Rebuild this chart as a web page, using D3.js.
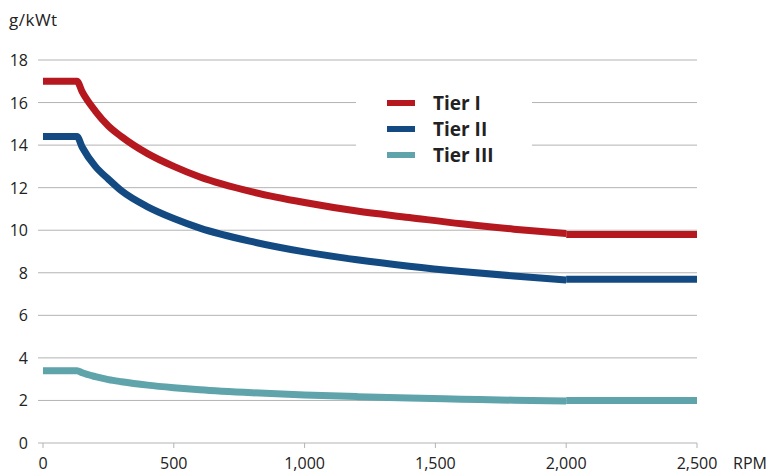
<!DOCTYPE html>
<html>
<head>
<meta charset="utf-8">
<script src="https://cdn.jsdelivr.net/npm/d3@7"></script>
<style>
  body { margin: 0; background: #fff; }
  svg text { font-family: "Open Sans", Lato, sans-serif; fill: #222; }
</style>
</head>
<body>
<svg id="chart" width="774" height="474"></svg>
<script>
// values
var rpm    = [0, 130, 150, 200, 250, 300, 400, 500, 600, 800, 1000, 1200, 1400, 1600, 1800, 2000];
var tier1  = [17, 17, 16.5, 15.6, 14.9, 14.4, 13.6, 13.0, 12.5, 11.8, 11.3, 10.9, 10.6, 10.3, 10.05, 9.84];
var tier2  = [14.4, 14.4, 13.9, 13.0, 12.4, 11.85, 11.1, 10.55, 10.1, 9.46, 8.98, 8.61, 8.31, 8.06, 7.85, 7.66];
var tier3  = [3.4, 3.4, 3.3, 3.12, 2.98, 2.88, 2.72, 2.6, 2.5, 2.36, 2.26, 2.18, 2.11, 2.06, 2.01, 1.97];
var tailRpm = [2000, 2500];
var tail1 = [9.8, 9.8];
var tail2 = [7.7, 7.7];
var tail3 = [2.0, 2.0];

var seriesNames = ['Tier I', 'Tier II', 'Tier III'];
var colors = ['#b5191f', '#134a82', '#5fa3ab'];
var xTicks = [0, 500, 1000, 1500, 2000, 2500];
var yTicks = [0, 2, 4, 6, 8, 10, 12, 14, 16, 18];

var svg = d3.select('#chart');

var x = d3.scaleLinear().domain([0, 2500]).range([43, 697]);
var y = d3.scaleLinear().domain([0, 18]).range([443, 60]);

// gridlines
svg.append('g')
    .selectAll('line')
    .data(yTicks.slice(1))
    .enter()
    .append('line')
    .attr('x1', 38).attr('x2', 697)
    .attr('y1', function (d) { return y(d); })
    .attr('y2', function (d) { return y(d); })
    .attr('stroke', '#b3b3b3').attr('stroke-width', 1);

// x axis line at 0
svg.append('line')
    .attr('x1', 38).attr('x2', 697)
    .attr('y1', y(0)).attr('y2', y(0))
    .attr('stroke', '#b3b3b3').attr('stroke-width', 1);

svg.append('g')
    .selectAll('line')
    .data(xTicks)
    .enter()
    .append('line')
    .attr('x1', function (d) { return x(d); })
    .attr('x2', function (d) { return x(d); })
    .attr('y1', y(0)).attr('y2', y(0) + 5)
    .attr('stroke', '#b3b3b3');

// y tick labels
svg.append('g')
    .selectAll('text')
    .data(yTicks)
    .enter()
    .append('text')
    .attr('x', 28)
    .attr('y', function (d) { return y(d) + 6; })
    .attr('text-anchor', 'end')
    .style('font-size', '16px')
    .text(function (d) { return d; });

// x tick labels
svg.append('g')
    .selectAll('text')
    .data(xTicks)
    .enter()
    .append('text')
    .attr('x', function (d) { return x(d); })
    .attr('y', 469)
    .attr('text-anchor', 'middle')
    .style('font-size', '16px')
    .text(function (d) { return d3.format(',')(d); });

svg.append('text').attr('x', 733).attr('y', 469)
    .style('font-size', '16px').text('RPM');
svg.append('text').attr('x', 9).attr('y', 26)
    .style('font-size', '17px').style('letter-spacing', '0.5px').text('g/kWt');

// curves
var line = d3.line()
    .curve(d3.curveMonotoneX)
    .x(function (d) { return x(d[0]); })
    .y(function (d) { return y(d[1]); });

var mains = [tier1, tier2, tier3];
var tails = [tail1, tail2, tail3];

// legend background
svg.append('rect')
    .attr('x', 356).attr('y', 86).attr('width', 176).attr('height', 80)
    .attr('fill', '#fff');

for (var s = mains.length - 1; s >= 0; s--) {
    var pts = rpm.map(function (r, i) { return [r, mains[s][i]]; });
    var tpts = tailRpm.map(function (r, i) { return [r, tails[s][i]]; });
    svg.append('path').attr('d', line(pts))
        .attr('fill', 'none').attr('stroke', colors[s])
        .attr('stroke-width', 7).attr('stroke-linejoin', 'round');
    svg.append('path').attr('d', line(tpts))
        .attr('fill', 'none').attr('stroke', colors[s])
        .attr('stroke-width', 7);
}

// legend
var legend = svg.append('g');
seriesNames.forEach(function (name, i) {
    var ly = 103 + i * 26;
    legend.append('line')
        .attr('x1', 387).attr('x2', 415)
        .attr('y1', ly).attr('y2', ly)
        .attr('stroke', colors[i]).attr('stroke-width', 6);
    legend.append('text')
        .attr('x', 433).attr('y', ly + 7)
        .style('font-size', '19px').style('font-weight', 'bold')
        .text(name);
});
</script>
</body>
</html>
